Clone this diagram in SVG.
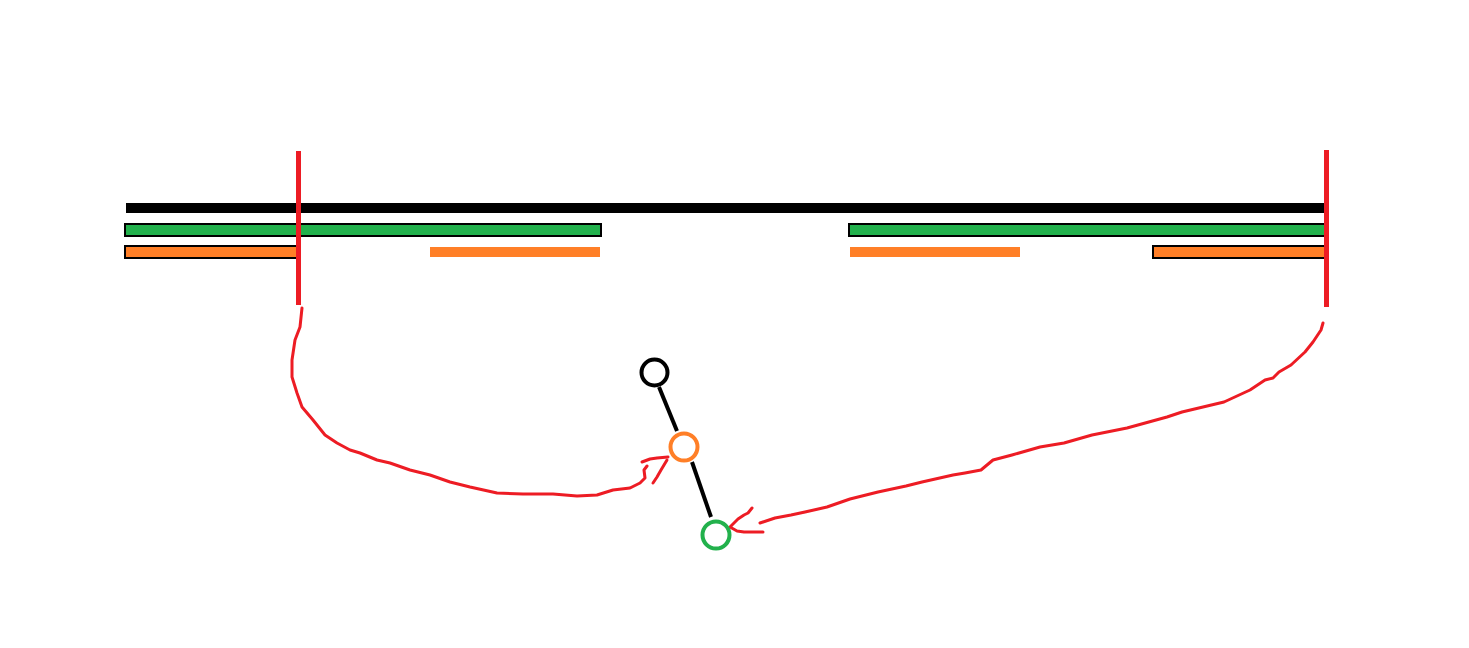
<svg xmlns="http://www.w3.org/2000/svg" width="1469" height="648" viewBox="0 0 1469 648">
<style>
.bord{stroke:#000;stroke-width:2}
.g{fill:#22B14C}
.o{fill:#FF7F27}
.red{fill:#ED1C24}
.node{fill:none;stroke-width:4}
.link{stroke:#000;stroke-width:4;stroke-linecap:butt;fill:none}
.hand{stroke:#ED1C24;stroke-width:3;fill:none;stroke-linecap:round;stroke-linejoin:round}
</style>
<rect width="1469" height="648" fill="#fff"/>
<g id="bars">
<rect x="126" y="203" width="1200" height="10" fill="#000"/>
<rect class="g bord" x="125" y="224" width="476" height="12"/>
<rect class="g bord" x="849" y="224" width="477" height="12"/>
<rect class="o bord" x="125" y="246" width="172" height="12"/>
<rect class="o bord" x="1153" y="246" width="173" height="12"/>
<rect class="o" x="430" y="247" width="170" height="10"/>
<rect class="o" x="850" y="247" width="170" height="10"/>
<rect class="red" x="296" y="151" width="5" height="154"/>
<rect class="red" x="1324" y="150" width="5" height="157"/>
</g>
<g id="connectors">
<line class="link" x1="659" y1="387" x2="677" y2="431"/>
<line class="link" x1="692" y1="462" x2="711" y2="517"/>
<path class="hand" d="M302,308 L300,327 L295,340 L292,360 L292,377 L297,393 L302,407 L313,420 L325,435 L337,443 L350,450 L360,453 L377,460 L390,463 L410,470 L430,475 L450,482 L470,487 L497,493 L523,494 L553,494 L577,496 L597,495 L613,490 L630,488 L640,483 L645,478 L644,470 L647,466"/>
<path class="hand" d="M642,462 L650,459 L657,458 L668,457"/>
<path class="hand" d="M667,460 L661,470 L657,477 L653,483"/>
<path class="hand" d="M1323,323 L1321,330 L1313,342 L1305,352 L1291,365 L1279,372 L1273,378 L1265,380 L1250,390 L1224,402 L1182,412 L1167,417 L1127,428 L1092,435 L1064,443 L1040,447 L1012,455 L993,460 L987,465 L981,470 L965,473 L953,475 L922,482 L906,486 L878,492 L850,499 L827,507 L805,512 L791,515 L775,518 L760,523"/>
<path class="hand" d="M752,508 L748,513 L744,515 L738,519 L730,527 L737,531 L744,532 L763,532"/>
</g>
<g id="node-black"><circle class="node" cx="654.5" cy="372.5" r="13" stroke="#000"/></g>
<g id="node-orange"><circle class="node" cx="684" cy="447" r="13.5" stroke="#FF7F27"/></g>
<g id="node-green"><circle class="node" cx="716" cy="535" r="13.5" stroke="#22B14C"/></g>
</svg>
